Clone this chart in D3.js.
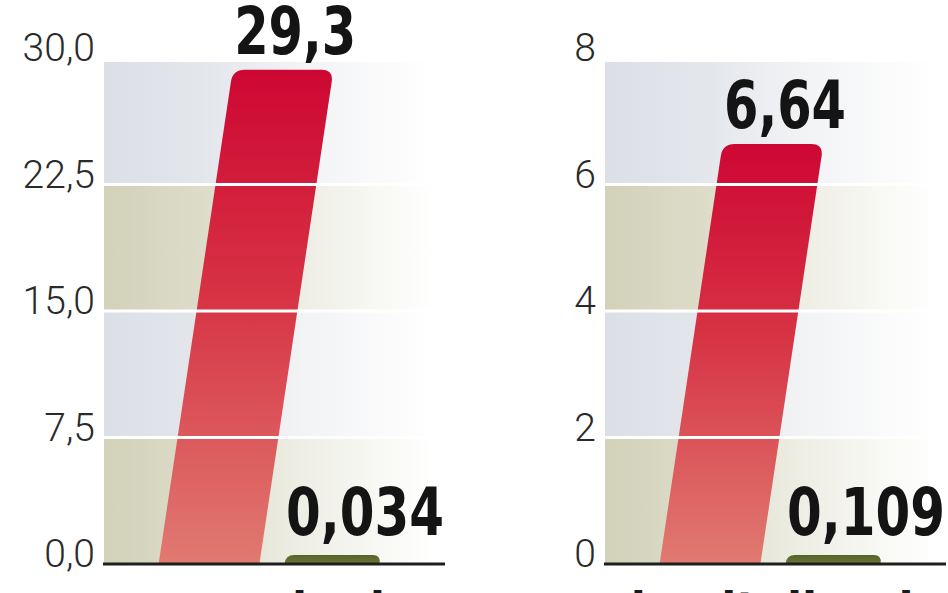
<!DOCTYPE html>
<html><head><meta charset="utf-8">
<script src="https://cdn.jsdelivr.net/npm/d3@7/dist/d3.min.js"></script>
<style>
html,body{margin:0;padding:0;background:#fff;}
svg{display:block;}
.tick-label{font-family:Roboto,"Open Sans",sans-serif;font-weight:300;font-size:39px;fill:#2a2a2a;}
.val{font-family:"DejaVu Sans Condensed","DejaVu Sans",sans-serif;font-stretch:condensed;font-weight:bold;font-size:66px;fill:#141414;}
.cat{font-family:"DejaVu Sans","Liberation Sans",sans-serif;font-weight:bold;font-size:44px;fill:#1a1a1a;}
</style></head>
<body>
<svg id="chart" width="948" height="593"></svg>
<script>
// ---- data ----
const panelNames = ["przychody", "kapitalizacja"];
const barKeys = ["pierwsza", "druga"];
const redValues = [29.3, 6.64];
const greenValues = [0.034, 0.109];
const yMaxValues = [30, 8];
const leftTicks = [0, 7.5, 15, 22.5, 30];
const leftTickLabels = ["0,0", "7,5", "15,0", "22,5", "30,0"];
const rightTicks = [0, 2, 4, 6, 8];
const rightTickLabels = ["0", "2", "4", "6", "8"];

const tickSets = [leftTicks, rightTicks];
const tickLabelSets = [leftTickLabels, rightTickLabels];
const fmt = v => String(v).replace(".", ",");

const svg = d3.select("#chart");
const defs = svg.append("defs");

function lin(id, stops, vertical) {
  const g = defs.append("linearGradient").attr("id", id)
    .attr("x1", 0).attr("y1", 0).attr("x2", vertical ? 0 : 1).attr("y2", vertical ? 1 : 0);
  stops.forEach(s => g.append("stop").attr("offset", s[0]).attr("stop-color", s[1]));
}
lin("gBlue", [[0, "#dce0e6"], [0.3, "#e3e6eb"], [0.6, "#f2f3f5"], [1, "#ffffff"]], false);
lin("gKhaki", [[0, "#d2d2ba"], [0.3, "#dcdcc9"], [0.6, "#eeeee5"], [1, "#ffffff"]], false);
lin("gRed", [[0, "#cd0733"], [0.45, "#d73244"], [1, "#e07a71"]], true);
lin("gGreen", [[0, "#55632a"], [1, "#6a7836"]], true);

const panelX = [103, 604];
const axisWidth = 342;
const bandWidth = 330;
const y0 = 564, yTop = 58;
const slope = 0.15;

function barPath(x0, w, yb, yt, s, r) {
  const h = yb - yt;
  r = Math.min(r, h);
  const k = h > 0 ? r / h : 0;
  return `M${x0},${yb}` +
    `L${x0 + s * (1 - k)},${yt + r}` +
    `Q${x0 + s},${yt} ${x0 + s + r},${yt}` +
    `L${x0 + w + s - r},${yt}` +
    `Q${x0 + w + s},${yt} ${x0 + w + s * (1 - k)},${yt + r}` +
    `L${x0 + w},${yb}Z`;
}

panelNames.forEach((name, i) => {
  const g = svg.append("g").attr("transform", `translate(${panelX[i]},0)`);
  const y = d3.scaleLinear().domain([0, yMaxValues[i]]).range([y0, yTop]);
  const x = d3.scaleBand().domain(barKeys).range([43, 295]).paddingInner(0.2).paddingOuter(0.1);
  const ticks = tickSets[i];

  // background bands
  for (let t = 0; t < ticks.length - 1; t++) {
    const top = t === ticks.length - 2 ? y(ticks[t + 1]) + 4 : y(ticks[t + 1]);
    g.append("rect")
      .attr("x", 1).attr("width", bandWidth)
      .attr("y", top).attr("height", y(ticks[t]) - top)
      .attr("fill", t % 2 === 0 ? "url(#gKhaki)" : "url(#gBlue)");
  }

  // red bar
  const rv = redValues[i];
  const rx = x(barKeys[0]), bw = x.bandwidth();
  const rh = y(0) - y(rv);
  g.append("path")
    .attr("d", barPath(rx, bw, y(0), y(rv), slope * rh, 12))
    .attr("fill", "url(#gRed)");

  // green bar (minimum visible height)
  const gv = greenValues[i];
  const gx = x(barKeys[1]);
  const gh = Math.max(y(0) - y(gv), 9);
  g.append("path")
    .attr("d", barPath(gx, bw - 6, y(0), y(0) - gh, slope * gh, 8))
    .attr("fill", "url(#gGreen)");

  // white grid lines
  g.selectAll(".grid").data(ticks.slice(1, -1)).enter().append("line")
    .attr("x1", 1).attr("x2", bandWidth)
    .attr("y1", d => y(d)).attr("y2", d => y(d))
    .attr("stroke", "#ffffff").attr("stroke-width", 3);

  // axis base line
  g.append("line").attr("x1", 0).attr("x2", axisWidth)
    .attr("y1", y(0)).attr("y2", y(0))
    .attr("stroke", "#1e1e1e").attr("stroke-width", 3);

  // tick labels
  g.selectAll(".tick-label").data(ticks).enter().append("text")
    .attr("class", "tick-label")
    .attr("text-anchor", "end")
    .attr("x", -8)
    .attr("y", d => y(d) + 3)
    .text((d, j) => tickLabelSets[i][j]);

  // value labels
  const redTopCenter = rx + slope * rh + bw / 2;
  g.append("text").attr("class", "val")
    .attr("text-anchor", "middle")
    .attr("x", redTopCenter + 12)
    .attr("y", y(rv) - 16)
    .attr("textLength", 122).attr("lengthAdjust", "spacingAndGlyphs")
    .text(fmt(rv));
  g.append("text").attr("class", "val")
    .attr("text-anchor", "middle")
    .attr("x", gx + bw / 2 + 30)
    .attr("y", y(0) - gh - 20)
    .attr("textLength", 158).attr("lengthAdjust", "spacingAndGlyphs")
    .text(fmt(gv));

  // category label (mostly below the visible area)
  g.append("text").attr("class", "cat")
    .attr("text-anchor", "middle")
    .attr("x", (x(barKeys[0]) + x(barKeys[1]) + bw) / 2 + 14)
    .attr("y", 624)
    .text(name);
});
</script>
</body></html>
